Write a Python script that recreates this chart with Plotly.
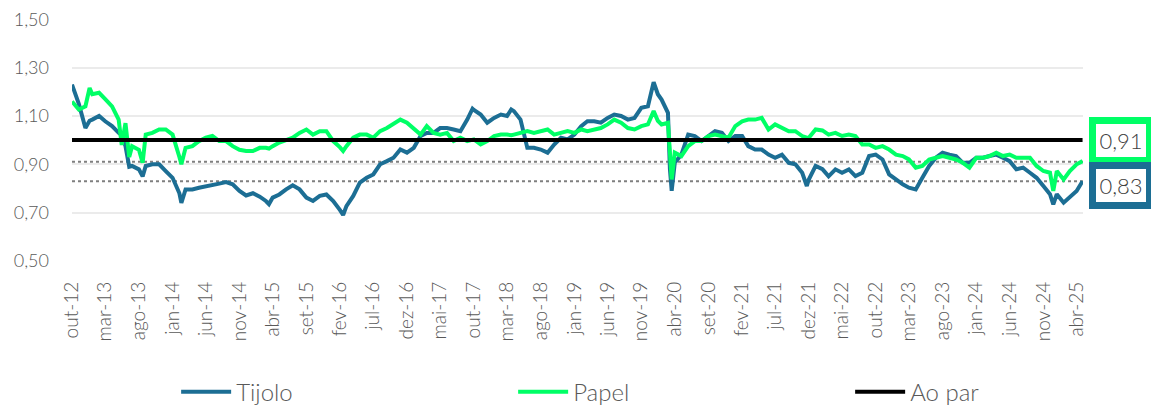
import plotly.graph_objects as go

dates = [
    "2012-10-01", "2012-11-01", "2012-12-01", "2012-12-20",
    "2013-01-01", "2013-02-01", "2013-03-01", "2013-04-01", "2013-05-01", "2013-05-15", "2013-06-01", "2013-06-18",
    "2013-07-01", "2013-08-01", "2013-08-18", "2013-09-01", "2013-10-01", "2013-11-01", "2013-12-01",
    "2014-01-01", "2014-02-01", "2014-02-10", "2014-03-01", "2014-04-01", "2014-05-01", "2014-06-01", "2014-07-01",
    "2014-08-01", "2014-09-01", "2014-10-01", "2014-11-01", "2014-12-01",
    "2015-01-01", "2015-02-01", "2015-03-01", "2015-03-15", "2015-04-01", "2015-05-01", "2015-06-01", "2015-07-01",
    "2015-08-01", "2015-09-01", "2015-10-01", "2015-11-01", "2015-12-01",
    "2016-01-01", "2016-02-01", "2016-02-15", "2016-03-01", "2016-04-01", "2016-05-01", "2016-06-01", "2016-07-01",
    "2016-08-01", "2016-09-01", "2016-10-01", "2016-11-01", "2016-12-01",
    "2017-01-01", "2017-02-01", "2017-03-01", "2017-04-01", "2017-05-01", "2017-06-01", "2017-07-01", "2017-08-01",
    "2017-09-01", "2017-09-25", "2017-10-01", "2017-11-01", "2017-12-01",
    "2018-01-01", "2018-02-01", "2018-03-01", "2018-03-20", "2018-04-01", "2018-05-01", "2018-06-01", "2018-07-01",
    "2018-08-01", "2018-09-01", "2018-10-01", "2018-11-01", "2018-12-01",
    "2019-01-01", "2019-02-01", "2019-03-01", "2019-04-01", "2019-05-01", "2019-06-01", "2019-07-01", "2019-08-01",
    "2019-09-01", "2019-10-01", "2019-11-01", "2019-12-01", "2019-12-27",
    "2020-01-15", "2020-02-01", "2020-03-01", "2020-03-10", "2020-03-18", "2020-04-01", "2020-05-01", "2020-06-01",
    "2020-07-01", "2020-08-01", "2020-09-01", "2020-10-01", "2020-11-01", "2020-12-01",
    "2021-01-01", "2021-02-01", "2021-03-01", "2021-04-01", "2021-05-01", "2021-06-01", "2021-07-01", "2021-08-01",
    "2021-09-01", "2021-10-01", "2021-11-01", "2021-11-22", "2021-12-01",
    "2022-01-01", "2022-02-01", "2022-03-01", "2022-04-01", "2022-05-01", "2022-06-01", "2022-07-01", "2022-08-01",
    "2022-09-01", "2022-10-01", "2022-11-01", "2022-12-01",
    "2023-01-01", "2023-02-01", "2023-03-01", "2023-04-01", "2023-05-01", "2023-06-01", "2023-07-01", "2023-08-01",
    "2023-09-01", "2023-10-01", "2023-11-01", "2023-12-01",
    "2024-01-01", "2024-02-01", "2024-03-01", "2024-04-01", "2024-05-01", "2024-06-01", "2024-07-01", "2024-08-01",
    "2024-09-01", "2024-10-01", "2024-11-01", "2024-12-01", "2024-12-16",
    "2025-01-01", "2025-02-01", "2025-03-01", "2025-04-01", "2025-04-28",
]

tijolo = [
    1.23, 1.15, 1.05, 1.08,
    1.085, 1.10, 1.078, 1.058, 1.03, 1.02, 0.975, 0.89, 0.893, 0.879, 0.85, 0.893, 0.90, 0.90, 0.872,
    0.844, 0.78, 0.74, 0.796, 0.796, 0.803, 0.81, 0.817, 0.82, 0.826, 0.817, 0.79, 0.771,
    0.78, 0.766, 0.748, 0.735, 0.762, 0.775, 0.796, 0.813, 0.796, 0.762, 0.748, 0.769, 0.775,
    0.748, 0.71, 0.69, 0.727, 0.769, 0.824, 0.844, 0.858, 0.90, 0.913, 0.927, 0.961, 0.948,
    0.968, 1.017, 1.03, 1.03, 1.05, 1.05, 1.044, 1.037, 1.085, 1.13, 1.125, 1.106, 1.072,
    1.092, 1.106, 1.10, 1.127, 1.12, 1.085, 0.968, 0.968, 0.961, 0.948, 0.982, 1.01, 1.003,
    1.023, 1.058, 1.078, 1.078, 1.072, 1.092, 1.106, 1.10, 1.085, 1.092, 1.134, 1.14, 1.24,
    1.19, 1.168, 1.113, 0.88, 0.79, 0.906, 0.94, 1.023, 1.017, 0.996, 1.017, 1.037, 1.03, 0.996,
    1.017, 1.017, 0.975, 0.961, 0.961, 0.94, 0.927, 0.94, 0.906, 0.90, 0.865, 0.81, 0.837,
    0.893, 0.88, 0.85, 0.879, 0.865, 0.879, 0.851, 0.865, 0.934, 0.94, 0.92, 0.858,
    0.837, 0.817, 0.803, 0.796, 0.844, 0.893, 0.927, 0.948, 0.94, 0.934, 0.906, 0.906,
    0.927, 0.927, 0.934, 0.94, 0.927, 0.913, 0.879, 0.886, 0.865, 0.844, 0.81, 0.776, 0.734,
    0.776, 0.741, 0.762, 0.789, 0.83,
]

papel = [
    1.16, 1.127, 1.14, 1.216,
    1.19, 1.196, 1.17, 1.14, 1.085, 0.98, 1.07, 0.93, 0.975, 0.96, 0.906, 1.023, 1.03, 1.044, 1.044,
    1.023, 0.93, 0.90, 0.968, 0.975, 0.996, 1.01, 1.017, 0.996, 0.996, 0.975, 0.96, 0.955,
    0.955, 0.968, 0.968, 0.965, 0.975, 0.99, 1.0, 1.01, 1.03, 1.044, 1.023, 1.037, 1.037,
    0.996, 0.97, 0.955, 0.975, 1.01, 1.023, 1.023, 1.01, 1.037, 1.05, 1.065, 1.085, 1.072,
    1.05, 1.023, 1.058, 1.03, 1.023, 1.03, 0.996, 1.01, 0.996, 1.0, 1.003, 0.982, 0.996,
    1.017, 1.023, 1.023, 1.02, 1.023, 1.03, 1.037, 1.03, 1.037, 1.044, 1.023, 1.03, 1.037,
    1.03, 1.044, 1.037, 1.044, 1.05, 1.065, 1.085, 1.072, 1.05, 1.044, 1.058, 1.065, 1.12,
    1.08, 1.065, 1.072, 0.906, 0.837, 0.948, 0.934, 0.975, 0.996, 0.996, 1.017, 1.023, 1.017, 1.01,
    1.058, 1.078, 1.085, 1.085, 1.092, 1.044, 1.065, 1.05, 1.037, 1.037, 1.017, 1.01, 1.01,
    1.044, 1.04, 1.023, 1.03, 1.017, 1.023, 1.017, 0.982, 0.982, 0.968, 0.975, 0.961,
    0.94, 0.934, 0.92, 0.886, 0.893, 0.92, 0.927, 0.934, 0.927, 0.92, 0.906, 0.886,
    0.927, 0.927, 0.934, 0.948, 0.934, 0.94, 0.927, 0.927, 0.927, 0.893, 0.872, 0.865, 0.79,
    0.872, 0.837, 0.872, 0.90, 0.913,
]

ao_par_value = 1.0

y_ticks = [0.5, 0.7, 0.9, 1.1, 1.3, 1.5]

tick_dates = [
    "2012-10-01", "2013-03-01", "2013-08-01", "2014-01-01", "2014-06-01", "2014-11-01", "2015-04-01",
    "2015-09-01", "2016-02-01", "2016-07-01", "2016-12-01", "2017-05-01", "2017-10-01", "2018-03-01",
    "2018-08-01", "2019-01-01", "2019-06-01", "2019-11-01", "2020-04-01", "2020-09-01", "2021-02-01",
    "2021-07-01", "2021-12-01", "2022-05-01", "2022-10-01", "2023-03-01", "2023-08-01", "2024-01-01",
    "2024-06-01", "2024-11-01", "2025-04-01",
]
tick_labels = [
    "out-12", "mar-13", "ago-13", "jan-14", "jun-14", "nov-14", "abr-15", "set-15", "fev-16", "jul-16",
    "dez-16", "mai-17", "out-17", "mar-18", "ago-18", "jan-19", "jun-19", "nov-19", "abr-20", "set-20",
    "fev-21", "jul-21", "dez-21", "mai-22", "out-22", "mar-23", "ago-23", "jan-24", "jun-24", "nov-24",
    "abr-25",
]

BLUE = "#1C6E94"
GREEN = "#00FF66"
TXT = "#595959"
FONT = "Lato"

fig = go.Figure()
fig.add_trace(go.Scatter(x=dates, y=tijolo, name="Tijolo", mode="lines",
                         line=dict(color=BLUE, width=4)))
fig.add_trace(go.Scatter(x=dates, y=papel, name="Papel", mode="lines",
                         line=dict(color=GREEN, width=4)))
fig.add_trace(go.Scatter(x=dates, y=[ao_par_value] * len(dates), name="Ao par", mode="lines",
                         line=dict(color="#000000", width=4)))

last_papel = round(papel[-1], 2)
last_tijolo = round(tijolo[-1], 2)
for v in (last_papel, last_tijolo):
    fig.add_hline(y=v, line=dict(color="#7F7F7F", width=2, dash="dot"), layer="below")

def fmt(v):
    return f"{v:.2f}".replace(".", ",")

for val, col, yp in ((last_papel, GREEN, 0.5), (last_tijolo, BLUE, 0.31)):
    fig.add_annotation(xref="paper", yref="paper", x=1.0, y=yp, xanchor="left", yanchor="middle",
                       xshift=6, text=fmt(val), showarrow=False,
                       font=dict(family=FONT, size=22, color="#404040", weight=300),
                       bgcolor="white", bordercolor=col, borderwidth=7, borderpad=2, width=46, height=29)

fig.update_layout(
    width=1151, height=408,
    margin=dict(l=72, r=68, t=19, b=147, autoexpand=False),
    paper_bgcolor="white", plot_bgcolor="white",
    separators=",.",
    font=dict(family=FONT, color=TXT, weight=300),
    showlegend=True,
    legend=dict(orientation="h", x=0.103, y=0.039, xref="paper", yref="container",
                xanchor="left", yanchor="middle",
                entrywidth=272, entrywidthmode="pixels",
                font=dict(family=FONT, size=24, color=TXT, weight=300), itemwidth=50),
)
fig.update_xaxes(
    type="date", range=["2012-10-01", "2025-04-30"],
    tickvals=tick_dates, ticktext=tick_labels, tickangle=-90,
    tickfont=dict(family=FONT, size=19, color=TXT, weight=300),
    showgrid=False, zeroline=False, showline=False, ticks="",
    ticklabelstandoff=16, automargin=False,
)
fig.update_yaxes(
    range=[0.4995, 1.5015], tickvals=y_ticks, tickformat=".2f",
    tickfont=dict(family=FONT, size=18, color=TXT, weight=300),
    showgrid=True, gridcolor="#EBEBEB", gridwidth=1.5, zeroline=False, showline=False,
    ticks="", ticklabelstandoff=22, automargin=False,
)

# remove the page's default 8px body margin so the figure fills the 1151x408 window exactly
fig.write_html("out.html", config={"displayModeBar": False},
               post_script="document.body.style.margin='0';document.body.style.overflow='hidden';")
